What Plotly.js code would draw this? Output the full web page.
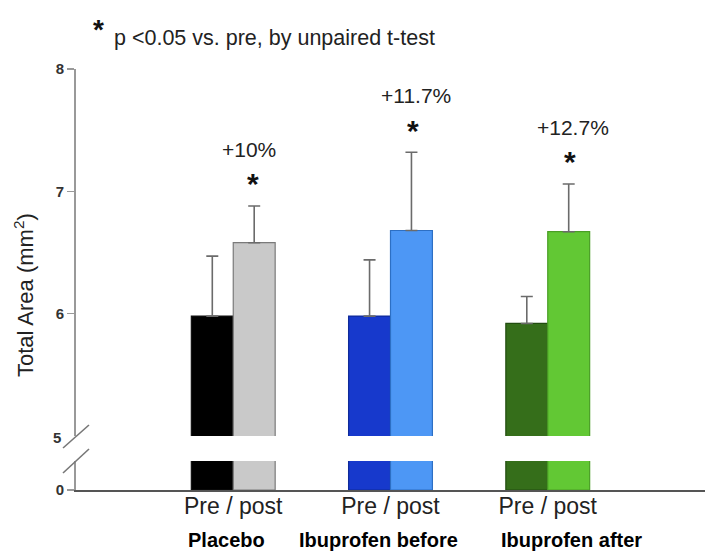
<!DOCTYPE html>
<html>
<head>
<meta charset="utf-8">
<script src="https://cdn.plot.ly/plotly-3.0.1.min.js"></script>
<style>html,body{margin:0;padding:0;background:#fff;}#chart{width:724px;height:554px;}</style>
</head>
<body>
<div id="chart"></div>
<script>
// ---- data ----
const groups = ["Placebo", "Ibuprofen before", "Ibuprofen after"];
const tickLabels = ["Pre / post", "Pre / post", "Pre / post"];
const preValues = [5.98, 5.98, 5.92];
const postValues = [6.58, 6.68, 6.67];
const preErr = [0.49, 0.46, 0.22];
const postErr = [0.30, 0.64, 0.39];
const changeLabels = ["+10%", "+11.7%", "+12.7%"];
const preColors = ["#000000", "#1739cc", "#356e1a"];
const postColors = ["#c9c9c9", "#4d97f5", "#62c834"];
const preLine = ["#111111", "#0f2a99", "#224d10"];
const postLine = ["#7a7a7a", "#2d6fc4", "#4a9e25"];

const W = 724, H = 554;
const mL = 76, mR = 19, mT = 69, mB = 64;
const plotH = H - mT - mB;
const upperDomain = [(490 - 436) / plotH, 1];
const lowerDomain = [0, (490 - 461) / plotH];
const px = x => (x - mL) / (W - mL - mR);
const py = y => (H - mB - y) / plotH;

const xIdx = groups.map((g, i) => i);

function barTrace(vals, colors, lines, err, yaxis, name) {
  const t = {
    type: "bar", x: xIdx, y: vals, yaxis: yaxis, name: name,
    marker: {color: colors, line: {color: lines, width: 1.2}},
    showlegend: false, hoverinfo: "skip"
  };
  if (err) {
    t.error_y = {type: "data", symmetric: false, array: err,
      arrayminus: err.map(() => 0), color: "#6b6b6b", thickness: 1.6, width: 6};
  }
  return t;
}

const data = [
  barTrace(preValues, preColors, preLine, preErr, "y", "Pre"),
  barTrace(postValues, postColors, postLine, postErr, "y", "Post"),
  barTrace(preValues, preColors, preLine, null, "y2", "Pre"),
  barTrace(postValues, postColors, postLine, null, "y2", "Post")
];

const ann = [];
const fontMain = "Liberation Sans, Arial, sans-serif";
function paperText(x, y, text, font, extra) {
  return Object.assign({x: px(x), y: py(y), xref: "paper", yref: "paper", text: text,
    showarrow: false, xanchor: "center", yanchor: "middle", font: font}, extra || {});
}
// change labels and stars
const labelPos = [[0.10, 7.34], [1.165, 7.78], [2.16, 7.52]];
const starPos = [[0.125, 7.06], [1.14, 7.50], [2.14, 7.24]];
changeLabels.forEach((t, i) => {
  ann.push({x: labelPos[i][0], y: labelPos[i][1], xref: "x", yref: "y", text: t,
    showarrow: false, xanchor: "center", yanchor: "middle",
    font: {family: fontMain, size: 21, color: "#222"}});
  ann.push({x: starPos[i][0], y: starPos[i][1], xref: "x", yref: "y", text: "<b>*</b>",
    showarrow: false, xanchor: "center", yanchor: "middle",
    font: {family: fontMain, size: 30, color: "#111"}});
});
// top note
ann.push(paperText(98, 30, "<b>*</b>", {family: fontMain, size: 28, color: "#111"}));
ann.push(paperText(112, 38, "p <0.05 vs. pre, by unpaired t-test",
  {family: fontMain, size: 21.5, color: "#222"}, {xanchor: "left"}));
// y title
ann.push(paperText(24, 295, "Total Area (mm<sup>2</sup>)",
  {family: fontMain, size: 22, color: "#222"}, {textangle: -90}));
// group labels
const groupPx = [226, 378, 571];
groups.forEach((g, i) => {
  ann.push(paperText(groupPx[i], 540, "<b>" + g + "</b>", {family: fontMain, size: 20, color: "#000"}));
});
// break tick label
ann.push(paperText(57, 437, "<b>5</b>", {family: fontMain, size: 15, color: "#333"}));

const shapes = [
  {type: "line", xref: "paper", yref: "paper", x0: px(63), y0: py(448), x1: px(89), y1: py(425),
    line: {color: "#777", width: 1.6}},
  {type: "line", xref: "paper", yref: "paper", x0: px(63), y0: py(473), x1: px(89), y1: py(449),
    line: {color: "#777", width: 1.6}}
];

const layout = {
  width: W, height: H,
  margin: {l: mL, r: mR, t: mT, b: mB, pad: 0},
  paper_bgcolor: "#fff", plot_bgcolor: "rgba(0,0,0,0)",
  barmode: "group", bargap: 0.467, bargroupgap: 0,
  xaxis: {
    anchor: "y2", range: [-1, 3], tickvals: xIdx, ticktext: tickLabels,
    showline: true, linecolor: "#555", linewidth: 2, ticks: "", showgrid: false, zeroline: false,
    ticklabelstandoff: -6,
    tickfont: {family: fontMain, size: 23, color: "#222"}, fixedrange: true
  },
  yaxis: {
    domain: upperDomain, anchor: "x", range: [5, 8], tickvals: [6, 7, 8],
    showline: true, linecolor: "#999", linewidth: 2, ticks: "outside", ticklen: 7,
    tickcolor: "#999", tickwidth: 1.5, showgrid: false, zeroline: false,
    tickfont: {family: fontMain, size: 15, color: "#333", weight: "bold"}
  },
  yaxis2: {
    domain: lowerDomain, anchor: "x", range: [0, 1], tickvals: [0],
    showline: true, linecolor: "#999", linewidth: 2, ticks: "outside", ticklen: 7,
    tickcolor: "#999", tickwidth: 1.5, showgrid: false, zeroline: false,
    tickfont: {family: fontMain, size: 15, color: "#333", weight: "bold"}
  },
  annotations: ann,
  shapes: shapes
};

Plotly.newPlot("chart", data, layout, {displayModeBar: false, staticPlot: true});
</script>
</body>
</html>
